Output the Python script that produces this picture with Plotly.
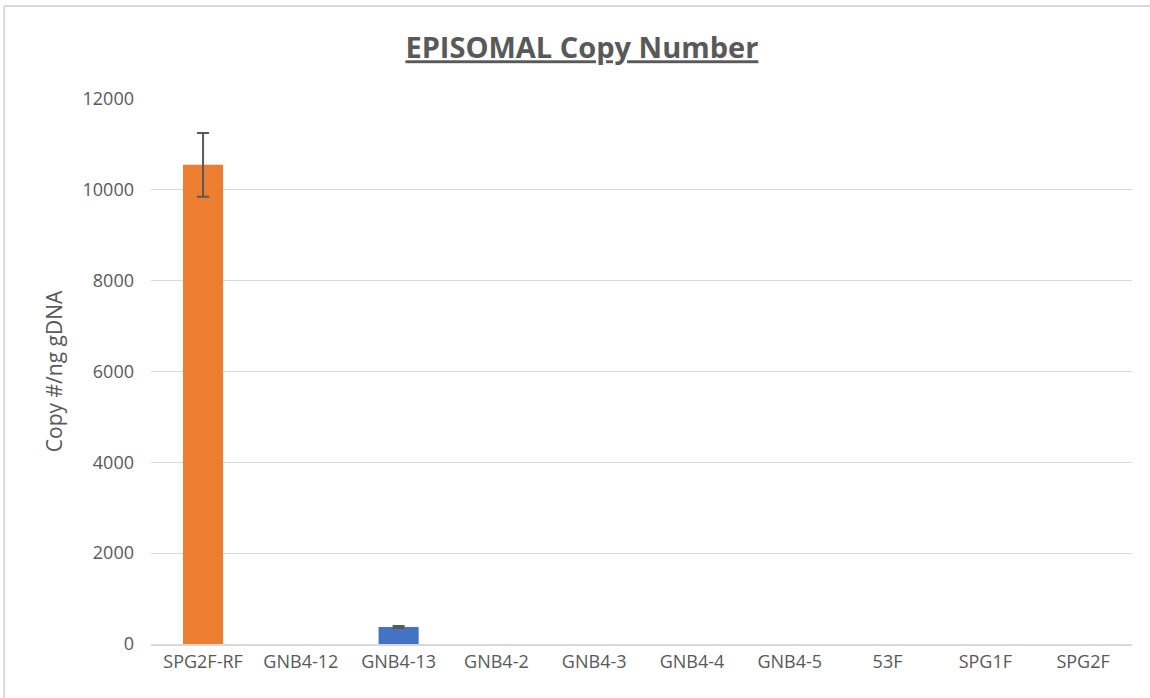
import plotly.graph_objects as go

categories = ["SPG2F-RF", "GNB4-12", "GNB4-13", "GNB4-2", "GNB4-3", "GNB4-4", "GNB4-5", "53F", "SPG1F", "SPG2F"]
values = [10550, 0, 375, 0, 0, 0, 0, 0, 0, 0]
errors = [700, 0, 20, 0, 0, 0, 0, 0, 0, 0]
colors = ["#ED7D31", "#4472C4", "#4472C4", "#4472C4", "#4472C4", "#4472C4", "#4472C4", "#4472C4", "#4472C4", "#4472C4"]
y_ticks = [0, 2000, 4000, 6000, 8000, 10000, 12000]
y_tick_text = ["0", "2000", "4000", "6000", "8000", "10000", "12000"]

fig = go.Figure()
fig.add_trace(go.Bar(
    x=categories, y=values,
    marker=dict(color=colors, line=dict(width=0)),
    width=0.41,
))
# error bars only where there is a non-zero error
err_idx = [i for i, e in enumerate(errors) if e > 0]
fig.add_trace(go.Scatter(
    x=[categories[i] for i in err_idx], y=[values[i] for i in err_idx],
    mode="markers", marker=dict(size=1, opacity=0), hoverinfo="skip",
    error_y=dict(type="data", array=[errors[i] for i in err_idx], visible=True, color="#595959", thickness=2, width=6),
))

tick_font = dict(family="Open Sans, Liberation Sans, sans-serif", size=18, color="#595959")
fig.update_layout(
    width=1150, height=698,
    margin=dict(l=151, r=18, t=99, b=54),
    paper_bgcolor="white", plot_bgcolor="white",
    showlegend=False,
    title=dict(text="<b><u>EPISOMAL Copy Number</u></b>", x=0.506, xanchor="center", y=0.931, yanchor="middle",
               font=dict(family="Open Sans, Liberation Sans, sans-serif", size=29, color="#595959")),
    xaxis=dict(tickfont=tick_font, showline=True, linecolor="#d9d9d9", linewidth=2, ticks="", showgrid=False),
    yaxis=dict(range=[0, 12000], tickvals=y_ticks, ticktext=y_tick_text, tickfont=tick_font, showgrid=True,
               gridcolor="#d9d9d9", gridwidth=1.3, zeroline=False, ticks="", ticklabelstandoff=16,
               title=dict(text="Copy #/ng gDNA", font=dict(family="Open Sans, Liberation Sans, sans-serif", size=21, color="#595959"), standoff=14)),
    shapes=[
        dict(type="line", xref="paper", yref="paper", x0=-0.1497, x1=1.05, y0=1.1706, y1=1.1706,
             line=dict(color="#d9d9d9", width=2)),
        dict(type="line", xref="paper", yref="paper", x0=-0.1497, x1=-0.1497, y0=1.1706, y1=-0.2,
             line=dict(color="#d9d9d9", width=2)),
    ],
)
fig.write_html("out.html", config={"displayModeBar": False}, post_script="document.body.style.margin='0px';")
